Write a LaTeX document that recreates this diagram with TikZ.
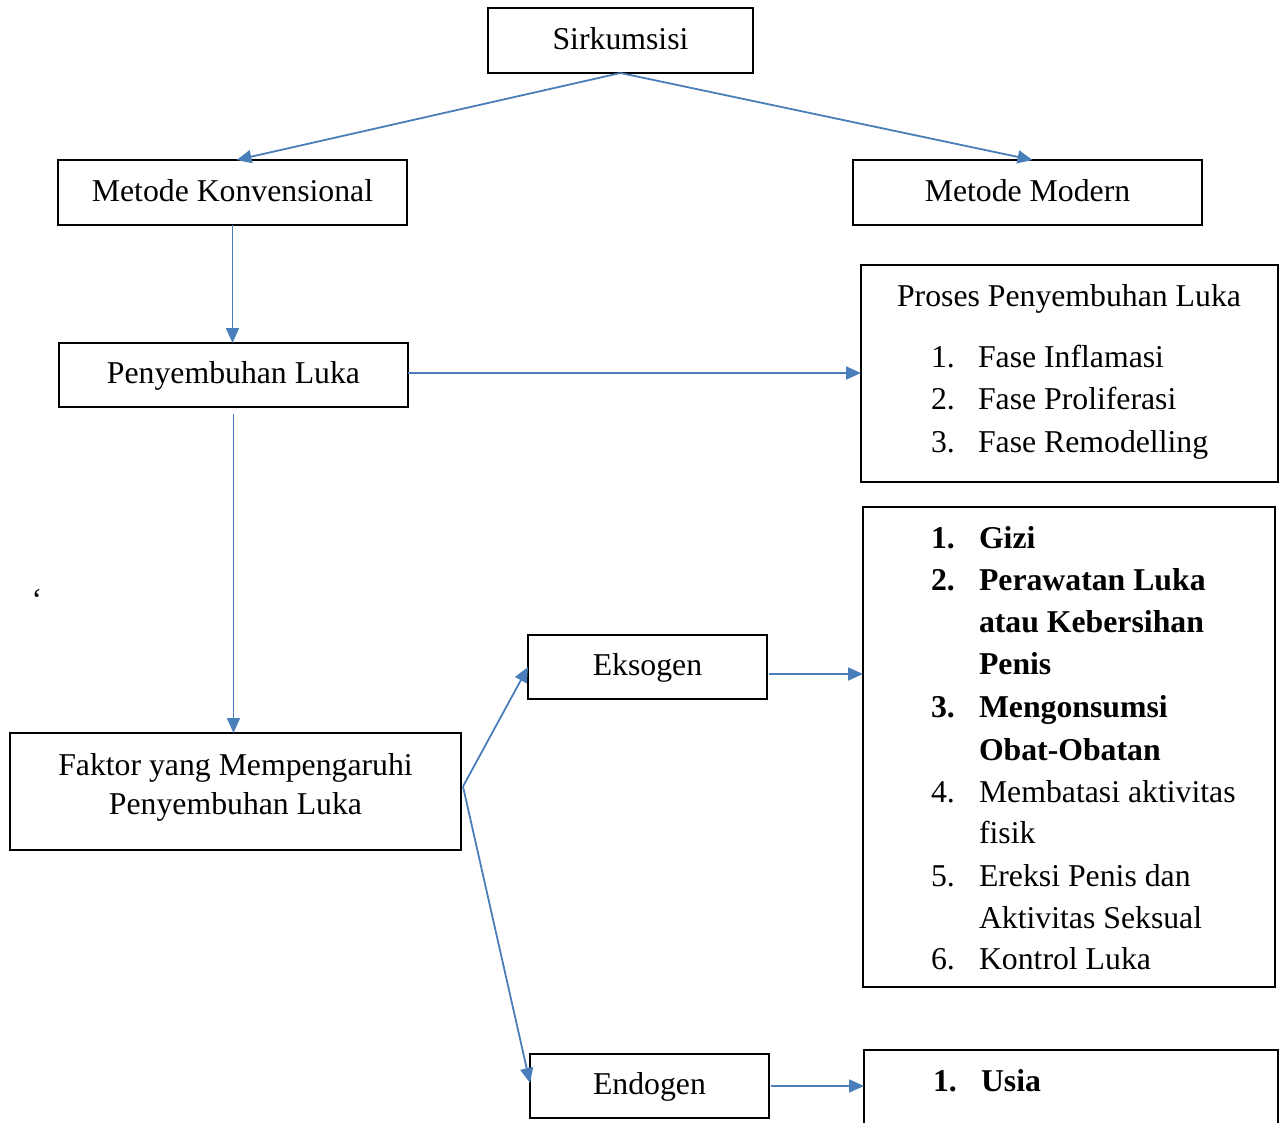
\documentclass[tikz,border=0pt]{standalone}
\usepackage{fontspec}
\setmainfont{Liberation Serif}
\usetikzlibrary{arrows.meta}
\definecolor{arrblue}{HTML}{4A7EBB}
\begin{document}
\begin{tikzpicture}[x=1pt,y=-1pt,
  box/.style={draw=black,line width=1.6pt,inner sep=0pt,outer sep=0pt,text height=24pt,text depth=7pt,font=\fontsize{31.75}{42.5}\selectfont},
  txt/.style={inner sep=0pt,outer sep=0pt,font=\fontsize{31.75}{42.5}\selectfont},
  num/.style={txt,anchor=base west},
  bnum/.style={num,font=\fontsize{31.75}{42.5}\selectfont\bfseries},
  arr/.style={draw=arrblue,line width=1.8pt,-{Triangle[length=15pt,width=13pt]}}]
\useasboundingbox (0,0) rectangle (1284,1122);
\clip (0,0) rectangle (1284,1122);
% boxes
\node[box,minimum width=265pt,minimum height=65pt] (sirk) at (620.5,40.5) {Sirkumsisi};
\node[box,minimum width=349pt,minimum height=65pt] (mk) at (232.5,192.5) {Metode Konvensional};
\node[box,minimum width=349pt,minimum height=65pt] (mm) at (1027.5,192.5) {Metode Modern};
\node[box,minimum width=349pt,minimum height=64pt] (peny) at (233.5,375) {Penyembuhan Luka};
\node[box,minimum width=417pt,minimum height=217pt] (proses) at (1069.5,373.5) {};
\node[box,minimum width=451pt,minimum height=117pt] (faktor) at (235.5,791.5) {};
\node[box,minimum width=239pt,minimum height=64pt] (eks) at (647.5,667) {Eksogen};
\node[box,minimum width=412pt,minimum height=480pt] (list) at (1069,747) {};
\node[box,minimum width=239pt,minimum height=64pt] (endo) at (649.5,1086) {Endogen};
\node[box,minimum width=414pt,minimum height=110pt] (usia) at (1071,1105) {};
% proses text
\node[txt,anchor=base] (pt) at (1069,306) {Proses Penyembuhan Luka};
\node[num] (p1n) at (931,367) {1.};
\node[num] (p1) at (978,367) {Fase Inflamasi};
\node[num] (p2n) at (931,409.5) {2.};
\node[num] (p2) at (978,409.5) {Fase Proliferasi};
\node[num] (p3n) at (931,452) {3.};
\node[num] (p3) at (978,452) {Fase Remodelling};
% faktor text
\node[txt,anchor=base] (f1) at (235.5,775) {Faktor yang Mempengaruhi};
\node[txt,anchor=base] (f2) at (235.5,814) {Penyembuhan Luka};
% list text
\node[bnum] (l1n) at (931,548.5) {1.};
\node[bnum] (l1) at (979,548.5) {Gizi};
\node[bnum] (l2n) at (931,590.5) {2.};
\node[bnum] (l2a) at (979,590.5) {Perawatan Luka};
\node[bnum] (l2b) at (979,632.5) {atau Kebersihan};
\node[bnum] (l2c) at (979,674.5) {Penis};
\node[bnum] (l3n) at (931,717.5) {3.};
\node[bnum] (l3a) at (979,717.5) {Mengonsumsi};
\node[bnum] (l3b) at (979,760.5) {Obat-Obatan};
\node[num] (l4n) at (931,802.5) {4.};
\node[num] (l4a) at (979,802.5) {Membatasi aktivitas};
\node[num] (l4b) at (979,843.5) {fisik};
\node[num] (l5n) at (931,886.5) {5.};
\node[num] (l5a) at (979,886.5) {Ereksi Penis dan};
\node[num] (l5b) at (979,928.5) {Aktivitas Seksual};
\node[num] (l6n) at (931,969.5) {6.};
\node[num] (l6) at (979,969.5) {Kontrol Luka};
% usia text
\node[bnum] (u1n) at (933,1091) {1.};
\node[bnum] (u1) at (981,1091) {Usia};
% stray mark
\node[txt,anchor=base] (mark) at (37,610) {‘};
% connectors
\draw[arr] (sirk.south) -- ([xshift=4pt]mk.north);
\draw[arr] (sirk.south) -- ([xshift=5pt]mm.north);
\draw[arr] (mk.south) -- (peny.north -| mk.south);
\draw[arr] ([yshift=2pt]peny.east) -- ([yshift=2pt]peny.east -| proses.west);
\coordinate (ps) at ([yshift=-7pt]peny.south);
\draw[arr] (ps) -- (ps |- faktor.north);
\coordinate (fe) at ([xshift=2pt,yshift=5pt]faktor.east);
\draw[arr] (fe) -- (eks.west);
\draw[arr] (fe) -- ([yshift=3pt]endo.west);
\coordinate (ee) at ([xshift=2pt,yshift=-7pt]eks.east);
\draw[arr] (ee) -- (ee -| list.west);
\coordinate (ne) at ([xshift=2pt]endo.east);
\draw[arr] (ne) -- (ne -| usia.west);
\end{tikzpicture}
\end{document}
